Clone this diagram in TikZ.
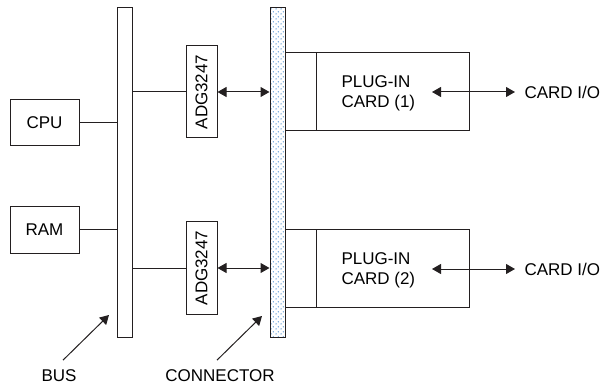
\documentclass[tikz,border=0pt]{standalone}
\usepackage{fontspec}
\setmainfont{Liberation Sans}
\usepackage{tikz}
\usetikzlibrary{arrows.meta,patterns.meta}
\definecolor{dotblue}{HTML}{3D85CC}
\definecolor{inkgray}{HTML}{231F20}

\tikzdeclarepattern{
  name=bluedots, type=colored,
  bounding box={(0,0) and (5pt,5pt)},
  tile size={(5pt,5pt)},
  code={
    \fill[dotblue] (1.25pt,1.25pt) circle (0.75pt);
    \fill[dotblue] (3.75pt,3.75pt) circle (0.75pt);
  }
}

\tikzset{
  blockbox/.style={draw=inkgray, line width=1pt, inner sep=0pt},
  chipbox/.style={blockbox, minimum width=31pt, minimum height=92pt},
  pointer/.style={->, line width=1pt, draw=inkgray}
}

\begin{document}
\begin{tikzpicture}[x=1pt, y=-1pt, font=\fontsize{17}{20}\selectfont,
    >={Triangle[length=9pt,width=10pt]}, line width=1pt, draw=inkgray]
  \useasboundingbox (0,0) rectangle (603,385);

  % bus and connector bars
  \node[blockbox, minimum width=15pt, minimum height=329pt] (bus) at (124.5,172.5) {};
  \node[blockbox, minimum width=15pt, minimum height=329pt,
        pattern=bluedots] (conn) at (277.5,172.5) {};

  % CPU and RAM
  \node[blockbox, minimum width=69pt, minimum height=46pt] (cpu) at (44.5,123) {CPU};
  \node[blockbox, minimum width=69pt, minimum height=46pt] (ram) at (44.5,230) {RAM};
  \draw (cpu.east) -- (cpu.east -| bus.west);
  \draw (ram.east) -- (ram.east -| bus.west);

  % switches
  \node[chipbox] (adgA) at (201.5,92) {\rotatebox{90}{ADG3247}};
  \node[chipbox] (adgB) at (201.5,268) {\rotatebox{90}{ADG3247}};
  \draw (adgA.west) -- (adgA.west -| bus.east);
  \draw (adgB.west) -- (adgB.west -| bus.east);
  \draw[<->] (adgA.east) -- (adgA.east -| conn.west);
  \draw[<->] (adgB.east) -- (adgB.east -| conn.west);

  % plug-in cards
  \node[blockbox, minimum width=31pt, minimum height=78pt] (tabA) at (300.5,92) {};
  \node[blockbox, minimum width=153pt, minimum height=78pt] (cardA) at (392.5,92) {};
  \node[inner sep=0pt, anchor=west, align=left] (lblA) at (341,93) {PLUG-IN\\CARD (1)};
  \node[inner sep=0pt, anchor=west] (ioA) at (524,92) {CARD I/O};
  \draw[<->] ([xshift=-92pt]ioA.west) -- ([xshift=-9pt]ioA.west);

  \node[blockbox, minimum width=31pt, minimum height=78pt] (tabB) at (300.5,268.5) {};
  \node[blockbox, minimum width=153pt, minimum height=78pt] (cardB) at (392.5,268.5) {};
  \node[inner sep=0pt, anchor=west, align=left] (lblB) at (341,270) {PLUG-IN\\CARD (2)};
  \node[inner sep=0pt, anchor=west] (ioB) at (524,269) {CARD I/O};
  \draw[<->] ([xshift=-92pt]ioB.west) -- ([xshift=-9pt]ioB.west);

  % labels with pointers
  \node (buslbl) at (59,376) {BUS};
  \node (connlbl) at (220,376) {CONNECTOR};
  \coordinate (bustip) at (109,315);
  \coordinate (conntip) at (262,316);
  \draw[pointer] ([shift={(4,-6)}]buslbl.north) -- (bustip);
  \draw[pointer] ([shift={(-3,-6)}]connlbl.north) -- (conntip);
\end{tikzpicture}
\end{document}
